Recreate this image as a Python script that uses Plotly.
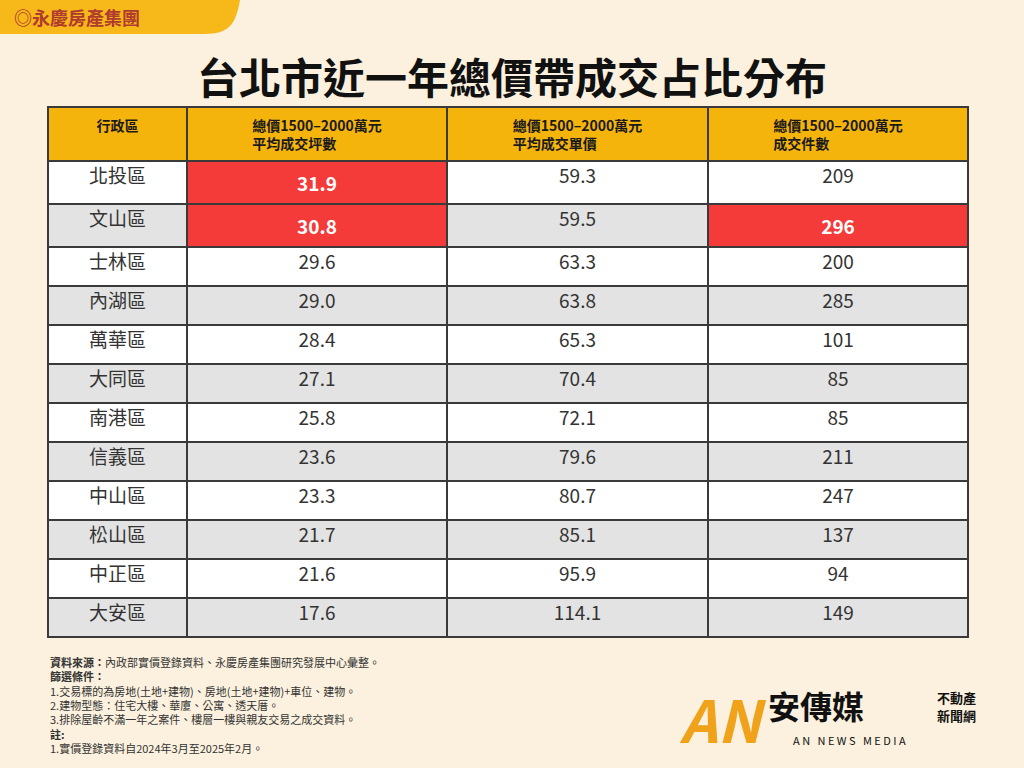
import plotly.graph_objects as go

districts = ["北投區","文山區","士林區","內湖區","萬華區","大同區","南港區","信義區","中山區","松山區","中正區","大安區"]
avg_ping = ["31.9","30.8","29.6","29.0","28.4","27.1","25.8","23.6","23.3","21.7","21.6","17.6"]
unit_price = ["59.3","59.5","63.3","63.8","65.3","70.4","72.1","79.6","80.7","85.1","95.9","114.1"]
deal_count = ["209","296","200","285","101","85","85","211","247","137","94","149"]
headers = ["<b>行政區</b>","<b>總價1500–2000萬元<br>平均成交坪數</b>","<b>總價1500–2000萬元<br>平均成交單價</b>","<b>總價1500–2000萬元<br>成交件數</b>"]

F = "Noto Sans CJK TC"
W, H = 1024, 768
BG = "#fbf1de"
RED = "#f53a3a"
rowfill = ["#ffffff" if i % 2 == 0 else "#e3e3e3" for i in range(len(districts))]

def is_hl(col, i):
    return (col == 1 and i in (0, 1)) or (col == 3 and i == 1)

def fills(col):
    return [RED if is_hl(col, i) else rowfill[i] for i in range(len(districts))]

def fcol(col):
    return ["#ffffff" if is_hl(col, i) else "#333333" for i in range(len(districts))]

cells_vals = [districts,
              [f"<b>{v}</b>" if is_hl(1, i) else v for i, v in enumerate(avg_ping)],
              unit_price,
              [f"<b>{v}</b>" if is_hl(3, i) else v for i, v in enumerate(deal_count)]]

fig = go.Figure(go.Table(
    domain=dict(x=[48/W, 968/W], y=[1-645/H, 1-107/H]),
    columnwidth=[139, 260, 261, 260],
    header=dict(values=headers, fill_color="#f5b40c", align="center",
                font=dict(family=F, size=14, color="#1a1a1a"), height=20,
                line=dict(color="#3a3a3a", width=2)),
    cells=dict(values=cells_vals, fill_color=[fills(c) for c in range(4)],
               align="center", font=dict(family=F, size=19, color=[fcol(c) for c in range(4)]),
               height=39, line=dict(color="#3a3a3a", width=2)),
))

shapes = [
    dict(type="path", xref="paper", yref="paper",
         path=f"M 0 1 L {240/W} 1 C {235/W} {1-30/H} {225/W} {1-34/H} {200/W} {1-34/H} L 0 {1-34/H} Z",
         fillcolor="#f7b81a", line=dict(width=0)),
]
annotations = [
    dict(text="<b>◎永慶房產集團</b>", x=12/W, y=1-17/H, xref="paper", yref="paper", xanchor="left",
         yanchor="middle", showarrow=False, font=dict(family=F, size=18, color="#b03a2e")),
    dict(text="<b>台北市近一年總價帶成交占比分布</b>", x=0.5, y=1-75/H, xref="paper", yref="paper",
         yanchor="middle", showarrow=False, font=dict(family=F, size=42, color="#111111")),
    dict(text="<b>資料來源：</b>內政部實價登錄資料、永慶房產集團研究發展中心彙整。<br><b>篩選條件：</b><br>"
              "1.交易標的為房地(土地+建物)、房地(土地+建物)+車位、建物。<br>2.建物型態：住宅大樓、華廈、公寓、透天厝。<br>"
              "3.排除屋齡不滿一年之案件、樓層一樓與親友交易之成交資料。<br><b>註:</b><br>1.實價登錄資料自2024年3月至2025年2月。",
         x=48/W, y=1-652/H, xref="paper", yref="paper", xanchor="left", yanchor="top", align="left",
         showarrow=False, font=dict(family=F, size=11, color="#333333")),
    dict(text="<b><i>AN</i></b>", x=768/W, y=1-718/H, xref="paper", yref="paper", showarrow=False,
         yanchor="middle", font=dict(family=F, size=58, color="#f0a21a")),
    dict(text="<b>安傳媒</b>", x=866/W, y=1-705/H, xref="paper", yref="paper", showarrow=False,
         yanchor="middle", font=dict(family=F, size=32, color="#111111")),
    dict(text="<b>不動產</b>", x=978/W, y=1-697/H, xref="paper", yref="paper", showarrow=False,
         yanchor="middle", font=dict(family=F, size=13, color="#111111")),
    dict(text="<b>新聞網</b>", x=978/W, y=1-715/H, xref="paper", yref="paper", showarrow=False,
         yanchor="middle", font=dict(family=F, size=13, color="#111111")),
    dict(text="A N   N E W S   M E D I A", x=908/W, y=1-740/H, xref="paper", yref="paper", showarrow=False,
         yanchor="middle", font=dict(family=F, size=11, color="#111111")),
]
fig.update_layout(width=W, height=H, margin=dict(l=0, r=0, t=0, b=0), paper_bgcolor=BG,
                  plot_bgcolor=BG, shapes=shapes, annotations=annotations)
fig.write_html("out.html", config={"displayModeBar": False})
with open("out.html", encoding="utf-8") as f:
    html = f.read()
html = html.replace("<body>", "<body style=\"margin:0;overflow:hidden\">", 1)
with open("out.html", "w", encoding="utf-8") as f:
    f.write(html)
